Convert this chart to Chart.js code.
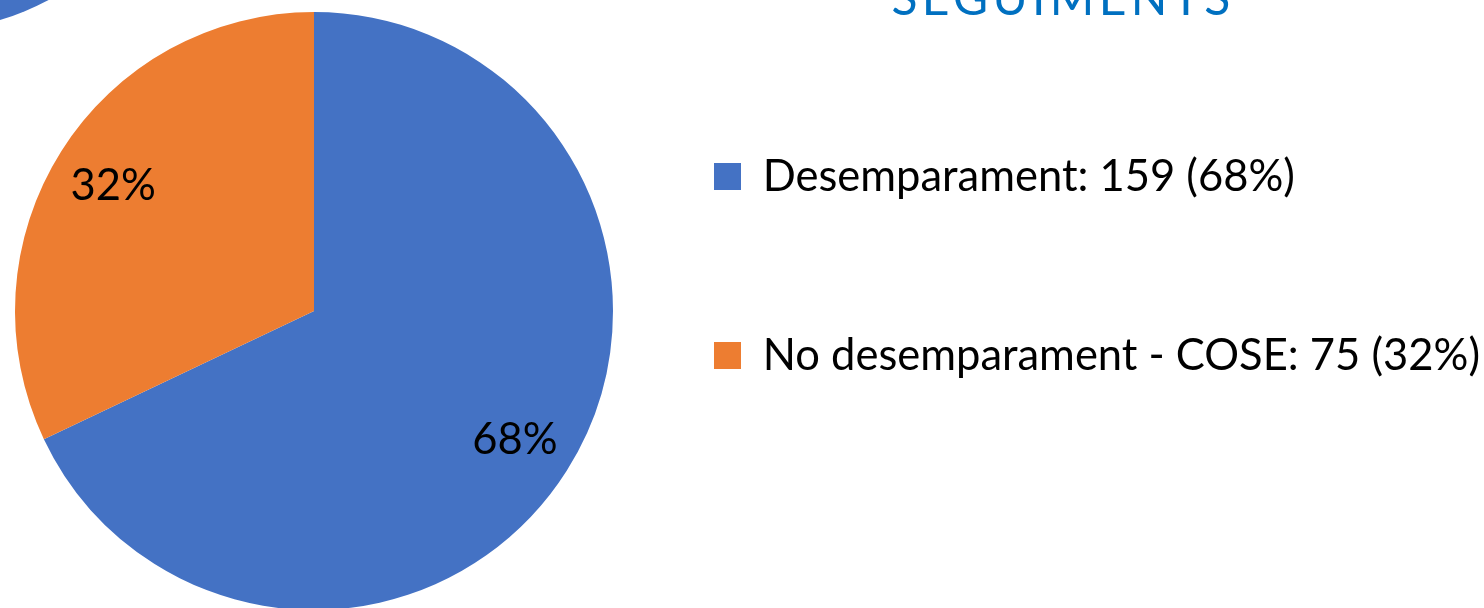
<!DOCTYPE html>
<html lang="ca">
<head>
<meta charset="UTF-8">
<title>Seguiments</title>
<style>
  html, body { margin: 0; padding: 0; background: #fff; overflow: hidden; }
  #wrap { position: relative; width: 1484px; height: 608px; overflow: hidden; }
  #corner { position: absolute; left: -372px; top: -541px; width: 574px; height: 574px; border-radius: 50%; background: #4472C4; }
  #title { position: absolute; left: 863px; width: 400px; top: -31px; text-align: center;
           font-family: Lato, "Open Sans", sans-serif; font-weight: 400; font-size: 48px;
           line-height: 56px; letter-spacing: 4.3px; color: #0070C0; }
  /* canvas sticks out on the left so the pie sits close to the page edge */
  #chart { position: absolute; left: -76px; top: 0; }
</style>
</head>
<body>
<div id="wrap">
  <canvas id="chart" width="1560" height="622"></canvas>
  <div id="corner"></div>
  <div id="title">SEGUIMENTS</div>
</div>

<script src="https://cdn.jsdelivr.net/npm/chart.js@4.4.1/dist/chart.umd.min.js"></script>
<script>
  // data
  const categories = ['Desemparament', 'No desemparament - COSE'];
  const counts = [159, 75];
  const colours = ['#4472C4', '#ED7D31'];

  const total = counts.reduce((a, b) => a + b, 0);
  const pct = i => Math.round(counts[i] / total * 100);

  const FONT = 'Lato';
  const FONT_SIZE = 43.5;

  // percentages inside the slices
  const sliceLabels = {
    id: 'sliceLabels',
    afterDatasetsDraw(chart) {
      const ctx = chart.ctx;
      const meta = chart.getDatasetMeta(0);
      ctx.save();
      ctx.font = FONT_SIZE + 'px ' + FONT;
      ctx.fillStyle = '#000';
      ctx.textAlign = 'center';
      ctx.textBaseline = 'middle';
      meta.data.forEach((arc, i) => {
        const p = arc.getProps(['x', 'y', 'startAngle', 'endAngle', 'outerRadius'], true);
        const mid = (p.startAngle + p.endAngle) / 2;
        const r = p.outerRadius * 0.795;
        ctx.fillText(pct(i) + '%', p.x + Math.cos(mid) * r, p.y + Math.sin(mid) * r + 2);
      });
      ctx.restore();
    }
  };

  const ctx = document.getElementById('chart').getContext('2d');
  new Chart(ctx, {
    type: 'pie',
    data: {
      labels: categories,
      datasets: [{
        data: counts,
        backgroundColor: colours,
        borderWidth: 0
      }]
    },
    options: {
      responsive: false,
      animation: false,
      layout: { padding: { left: 0, right: 0, top: 12, bottom: 12 } },
      plugins: {
        tooltip: { enabled: false },
        legend: {
          position: 'right',
          align: 'center',
          title: { display: true, text: ' ', font: { size: 35.5, lineHeight: 1 }, padding: 0 },
          labels: {
            boxWidth: 27,
            boxHeight: 27,
            padding: 10,
            color: '#000',
            // big line height only spaces the two rows apart
            font: { family: FONT, size: FONT_SIZE, lineHeight: 169 / FONT_SIZE },
            generateLabels: () => categories.map((c, i) => ({
              text: [c + ': ' + counts[i] + ' (' + pct(i) + '%)'],
              fillStyle: colours[i],
              strokeStyle: colours[i],
              lineWidth: 0,
              fontColor: '#000',
              hidden: false,
              index: i
            }))
          }
        }
      }
    },
    plugins: [sliceLabels]
  });
</script>
</body>
</html>
